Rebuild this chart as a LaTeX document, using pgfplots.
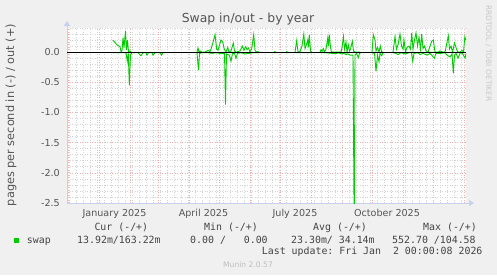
\documentclass[border=0pt]{standalone}
\usepackage{pgfplots}
\pgfplotsset{compat=1.18}
\usepackage{pgfplotstable}
\usepackage{fontspec}
\setmainfont{DejaVu Sans}
\newfontfamily\mono{DejaVu Sans Mono}
\usetikzlibrary{arrows.meta}
\definecolor{bg}{HTML}{F0F0F0}
\definecolor{swapgreen}{HTML}{00CC00}
\definecolor{mgrid}{HTML}{EFB0B0}
\definecolor{mingrid}{HTML}{D4D4D4}
\definecolor{axiscol}{HTML}{C8D0F0}
\definecolor{txt}{HTML}{555555}
\definecolor{leg}{HTML}{444444}

\pgfplotstableread{
x y
14 0.20
16 0.16
18 0.12
21 0.09
22 0.01
23 0.02
24 0.24
25 0.07
26.5 0.35
27.5 0.04
28.5 0.20
29.5 0.01
31 0.02
32 0.0
33 nan
98 0.0
99 0.07
100 0.0
101 0.02
103 0.0
106 0.0
109 0.03
111 0.01
112 0.05
114.3 0.18
116 0.29
117.7 0.05
119 0.03
120 0.09
122 0.20
123.7 0.17
125.3 0.05
127 0.0
128.7 0.08
130 0.0
132 0.02
134.3 0.15
135.5 0.02
137 0.0
139 0.01
141 0.02
143.3 0.10
145 0.03
146.7 0.09
148 0.04
149.5 0.07
151 0.0
152.7 0.06
154.7 0.29
156 0.03
157.5 0.0
159 0.01
160 0.0
161 nan
175 0.01
177 0.0
178 nan
187 0.01
189 0.0
190 nan
196 0.0
197.7 0.19
199 0.0
201 0.01
203 0.10
204.8 0.30
206 0.06
207 0.10
208.7 0.20
209.5 0.08
210.3 0.29
211.5 0.02
213 0.0
214 nan
221 0.0
222 0.04
223 0.01
224.3 0.06
225.5 0.0
227 0.05
228.7 0.23
229.5 0.10
230.3 0.29
231.5 0.08
232.5 0.0
238 0.0
242 0.0
243 0.08
244.5 0.26
245.5 0.05
247 0.17
248 0.0
249.3 0.12
250.5 0.02
251.5 0.05
253.3 0.18
254.5 0.02
256 0.0
259 0.0
261 0.0
262 nan
273 0.0
274.3 0.29
276 0.20
277 0.02
278.5 0.08
280 0.0
281.3 0.10
282.7 0.0
284 0.0
285 nan
294 0.0
296 0.26
297.5 0.05
299 0.12
301 0.30
302.5 0.10
304 0.05
305 0.20
306.5 0.0
308 0.08
310 0.10
311.5 0.05
312.7 0.32
314 0.05
315.5 0.20
317 0.32
318.5 0.10
320 0.25
321.5 0.05
322.7 0.30
324 0.06
325.5 0.10
327 0.02
329 0.0
331 0.10
332.7 0.18
334.3 0.20
336 0.0
339 0.0
341 0.02
344 0.0
346 0.0
347.5 0.12
349.3 0.27
350.5 0.05
352 0.10
353.5 0.0
355.5 0.15
357.5 0.05
359 0.0
361 0.0
363 0.03
364.5 0.0
365.8 0.25
366.8 0.20
}\outdata

\pgfplotstableread{
x y
14 -0.01
22 -0.01
27 -0.01
28.3 -0.15
29.3 -0.02
30.3 -0.55
31.5 -0.04
33 -0.01
36 -0.01
37 nan
39 -0.01
42 -0.06
44 -0.01
45 nan
47 -0.01
48 -0.05
49.5 -0.01
50 nan
53 -0.01
54 -0.05
56 -0.01
57 nan
59 -0.01
61 -0.01
62.5 -0.05
64 -0.01
65 nan
98 -0.01
99.5 -0.30
100.5 -0.02
103 -0.01
109 -0.01
113 -0.02
117 -0.01
121 -0.02
125.5 -0.02
126.5 -0.87
127.5 -0.03
130.3 -0.05
132 -0.15
133.5 -0.02
135.5 -0.02
137 -0.10
138.5 -0.02
142 -0.01
146 -0.03
150 -0.02
154 -0.01
159 -0.01
160 -0.01
161 nan
175 -0.01
177 -0.01
178 nan
187 -0.01
189 -0.01
190 nan
196 -0.01
201 -0.01
206 -0.01
213 -0.01
214 nan
221 -0.01
227 -0.01
232.5 -0.02
238 -0.02
239 -0.01
242.7 -0.03
245 -0.02
247 -0.04
249 -0.03
251 -0.05
254 -0.05
255.2 -3.0
256 -0.05
257.5 -0.02
259.3 -0.09
260.5 -0.02
262 -0.01
263 nan
273 -0.01
275.5 -0.02
277 -0.32
278.5 -0.05
280 -0.16
281 -0.02
282.7 -0.06
284 -0.01
285 nan
294 -0.01
297 -0.02
299 -0.04
302 -0.01
306.5 -0.03
310 -0.01
312.5 -0.01
313.7 -0.15
315 -0.02
319 -0.01
321 -0.04
324 -0.02
328 -0.05
331 -0.02
335.3 -0.10
337 -0.02
342 -0.02
346 -0.01
348 -0.05
351 -0.08
353 -0.03
354.3 -0.35
355.5 -0.05
357 -0.02
359 -0.10
361 -0.02
363 -0.01
366 -0.10
367 -0.02
}\indata

\begin{document}
\begin{tikzpicture}[x=1bp,y=1bp]
\fill[bg] (0,0) rectangle (497,275);
\begin{axis}[
  at={(67bp,72bp)}, anchor=south west,
  scale only axis, width=399bp, height=175bp,
  xmin=-32, xmax=367, ymin=-2.5, ymax=0.4,
  axis background/.style={fill=white},
  axis x line=bottom, axis y line=left,
  axis line style={draw=axiscol, line width=0.8bp},
  x axis line style={-{Triangle[length=5bp,width=6bp]}, shorten >=-8bp},
  y axis line style={-{Triangle[length=5bp,width=6bp]}, shorten >=-7bp},
  xtick={-31,0,31,59,90,120,151,181,212,243,273,304,334,365},
  xticklabels={},
  minor xtick={-30,-23,...,362},
  ytick={-2.5,-2,-1.5,-1,-0.5,0},
  yticklabels={-2.5,-2.0,-1.5,-1.0,-0.5,0.0},
  minor ytick={-2.4,-2.3,-2.2,-2.1,-1.9,-1.8,-1.7,-1.6,-1.4,-1.3,-1.2,-1.1,-0.9,-0.8,-0.7,-0.6,-0.4,-0.3,-0.2,-0.1,0.1,0.2,0.3,0.4},
  grid=both,
  major grid style={draw=mgrid, dash pattern=on 1bp off 1.5bp, line width=0.6bp},
  minor grid style={draw=mingrid, dash pattern=on 1bp off 1.5bp, line width=0.6bp},
  major tick length=0pt, minor tick length=0pt,
  extra x ticks={15.5,104.5,196,288},
  extra x tick labels={January 2025,April 2025,July 2025,October 2025},
  extra x tick style={grid=none},
  tick label style={font=\fontsize{9.6bp}{11bp}\selectfont, text=txt, inner sep=0pt},
  xticklabel style={yshift=-6bp},
  yticklabel style={xshift=-7bp},
  unbounded coords=jump,
]
\addplot[swapgreen, line width=0.9bp] table[x=x,y=y] {\outdata};
\addplot[swapgreen, line width=0.9bp] table[x=x,y=y] {\indata};
\addplot[black, line width=1bp] coordinates {(-32,0) (367,0)};
\end{axis}
\node[anchor=base, font=\fontsize{12.4bp}{14bp}\selectfont, text=txt] at (248,252.5) {Swap in/out - by year};
\node[rotate=90, font=\fontsize{11.3bp}{13bp}\selectfont, text=txt] at (11,160) {pages per second in (-) / out (+)};
\node[rotate=-90, font=\fontsize{7.5bp}{9bp}\selectfont, text={rgb,255:red,200;green,200;blue,200}] at (488.5,221.5) {RRDTOOL / TOBI OETIKER};
\fill[swapgreen] (14,31.7) rectangle (19.3,37.3);
\begin{scope}[every node/.style={anchor=base west, inner sep=0pt, font=\mono\fontsize{9.9bp}{12bp}\selectfont, text=leg}]
\node at (26.7,32) {swap};
\node at (94.3,44.5) {Cur~(-/+)};
\node at (204,44.5) {Min~(-/+)};
\node at (313,44.5) {Avg~(-/+)};
\node at (423,44.5) {Max~(-/+)};
\node at (77,32) {13.92m/163.22m};
\node at (190,32) {0.00~/~~~0.00};
\node at (291,32) {23.30m/~34.14m};
\node at (392,32) {552.70~/104.58};
\node at (261.7,20.5) {Last~update:~Fri~Jan~~2~00:00:08~2026};
\end{scope}
\node[anchor=base, inner sep=0pt, font=\fontsize{7.6bp}{9bp}\selectfont, text={rgb,255:red,190;green,190;blue,190}] at (248,8) {Munin 2.0.57};
\pgfresetboundingbox
\path[use as bounding box] (0,0) rectangle (497,275);
\end{tikzpicture}
\end{document}
